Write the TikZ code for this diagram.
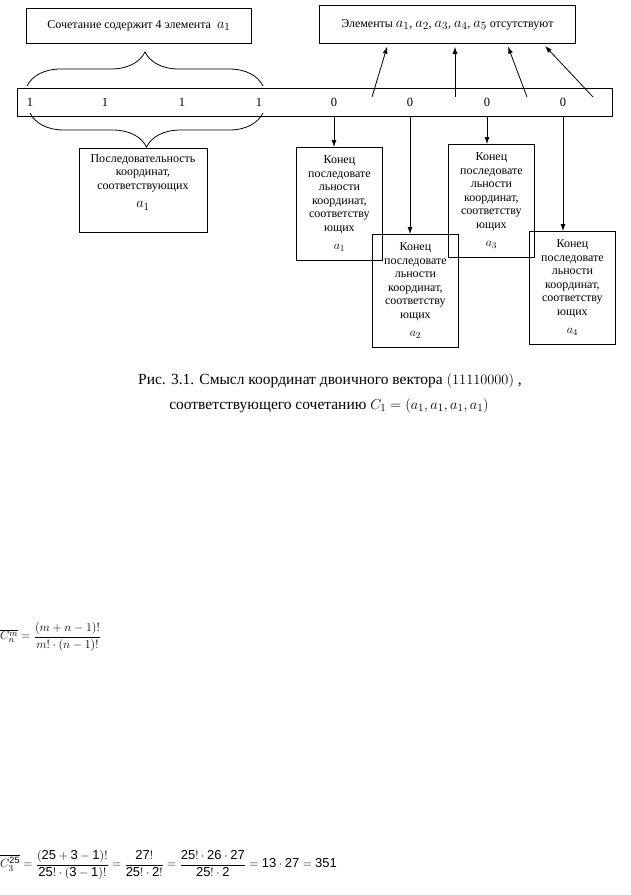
\documentclass[tikz,border=0pt]{standalone}
\usepackage{amsmath}
\usepackage{fontspec}
\setmainfont{Liberation Serif}
\setsansfont{Liberation Sans}
\usetikzlibrary{arrows.meta,positioning,decorations.pathreplacing,calc}
\newcommand{\ael}[2][15]{{\fontsize{#1}{#1}\selectfont$a_{#2}$}}
\tikzset{
  frame/.style={draw,line width=0.8pt,inner sep=2pt,align=center,
                font=\fontsize{12}{13.5}\selectfont},
  endbox/.style={frame,anchor=north west,minimum width=85pt,
                 minimum height=113pt,text width=82pt},
  digit/.style={inner sep=0pt,font=\fontsize{12.5}{12.5}\selectfont},
  capt/.style={inner sep=0pt,font=\fontsize{15.5}{15.5}\selectfont},
  formula/.style={anchor=west,inner sep=0pt,font=\sffamily\fontsize{13}{15}\selectfont},
  ar/.style={-{Latex[length=7pt,width=5pt]},line width=0.8pt},
  brc/.style={decorate,decoration={brace,amplitude=34pt},line width=0.8pt},
}

\begin{document}
\begin{tikzpicture}[x=1pt,y=-1pt]
  \useasboundingbox (0,0) rectangle (631,895);
  % boxes at the top
  \node[frame,anchor=north west,minimum width=225pt,minimum height=35pt] (soch) at (26,8)
    {Сочетание содержит 4 элемента~ \ael{1}};
  \node[frame,anchor=north west,minimum width=256pt,minimum height=38pt] (otsut) at (319,5)
    {Элементы \ael{1}, \ael{2}, \ael{3}, \ael{4}, \ael{5} отсутствуют};
  % the vector
  \node[draw,line width=0.8pt,anchor=north west,minimum width=595pt,minimum height=28pt] (bar) at (17,88) {};
  \foreach \v/\x [count=\i] in {1/30,1/105,1/182,1/259,0/334,0/410,0/487,0/563}
    \node[digit] (d\i) at (\x,102) {\v};
  \draw[brc] (27,86) -- (263,86);
  \draw[brc,decoration={mirror}] (30,113) -- (263,113);
  \node[frame,anchor=north,minimum width=128pt,text width=124pt,inner ysep=4pt,
        text height=10pt,text depth=66pt] (posl) at (143,148)
    {Последовательность\\координат,\\соответствующих\\[5pt]\ael{1}};
  % ends of the sequences
  \node[endbox] (k1) at (296,147) {Конец\\последовате\\льности\\координат,\\соответству\\ющих\\[5pt]\ael[13]{1}};
  \node[endbox] (k2) at (372,234) {Конец\\последовате\\льности\\координат,\\соответству\\ющих\\[5pt]\ael[13]{2}};
  \node[endbox] (k3) at (448,144) {Конец\\последовате\\льности\\координат,\\соответству\\ющих\\[5pt]\ael[13]{3}};
  \node[endbox] (k4) at (529,231) {Конец\\последовате\\льности\\координат,\\соответству\\ющих\\[5pt]\ael[13]{4}};
  \foreach \i/\k in {5/k1,6/k2,7/k3,8/k4}
    \draw[ar] (d\i |- bar.south) -- (d\i |- \k.north);
  \foreach \i/\a/\b in {1/372/388,2/455/455,3/527/507,4/593/543}{
    \coordinate (u\i) at (\a,97);
    \draw[ar,shorten >=3pt] (u\i) -- (\b,0 |- otsut.south);
  }
  % caption
  \node[capt] (cap1) at (330,381) {Рис. 3.1. Смысл координат двоичного вектора $(11110000)$ ,};
  \node[capt] (cap2) at (329,406) {соответствующего сочетанию $C_1=(a_1,a_1,a_1,a_1)$};
  % formulas
  \node[formula] (f1) at (0,637)
    {$\overline{C_n^m}=\dfrac{(m+n-1)!}{m!\cdot(n-1)!}$};
  \node[formula] (f2) at (0,865)
    {$\overline{C_3^{\mathsf{25}}}=\dfrac{(\mathsf{25}+\mathsf{3}-\mathsf{1})!}{\mathsf{25}!\cdot(\mathsf{3}-\mathsf{1})!}
      =\dfrac{\mathsf{27}!}{\mathsf{25}!\cdot\mathsf{2}!}=\dfrac{\mathsf{25}!\cdot\mathsf{26}\cdot\mathsf{27}}{\mathsf{25}!\cdot\mathsf{2}}
      =\mathsf{13}\cdot\mathsf{27}=\mathsf{351}$};
\end{tikzpicture}
\end{document}
